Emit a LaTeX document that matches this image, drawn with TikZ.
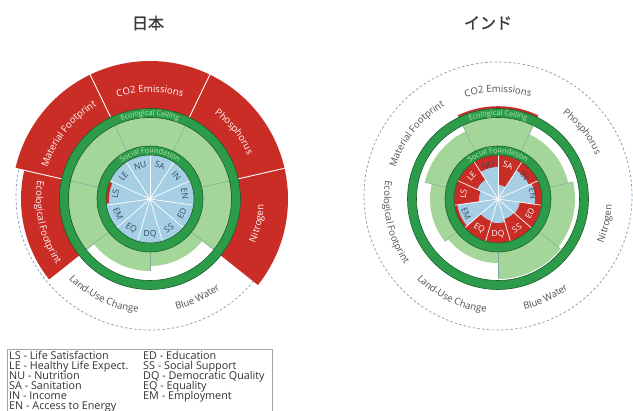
\documentclass[tikz,border=0pt]{standalone}
\usepackage{fontspec}
\usetikzlibrary{decorations.text}
\newfontfamily\osans{Open Sans}
\newfontfamily\cjkfont[FakeBold=1.2]{Noto Sans CJK JP}
\definecolor{dred}{RGB}{202,44,38}
\definecolor{lgreen}{RGB}{163,214,152}
\definecolor{dgreen}{RGB}{44,156,74}
\definecolor{dgline}{RGB}{25,95,45}
\definecolor{lblue}{RGB}{166,206,228}
\definecolor{ringtxt}{RGB}{185,228,175}
\definecolor{dashc}{RGB}{125,155,175}
\definecolor{sepc}{RGB}{130,170,160}
\definecolor{labgray}{RGB}{80,80,80}
\definecolor{soclab}{RGB}{50,75,100}
\definecolor{legc}{RGB}{50,50,50}
\definecolor{titc}{RGB}{60,60,60}
\newcommand{\labfont}{\osans\fontsize{9.6}{11}\selectfont}
\newcommand{\ringfont}{\osans\fontsize{7.3}{8}\selectfont}
\newcommand{\socfont}{\osans\fontsize{8.4}{9}\selectfont}
\newcommand{\legfont}{\osans\fontsize{10.8}{10}\selectfont}
\newcommand{\annsec}[5]{\fill[#5] ({#1}:#3pt) arc[start angle={#1}, end angle={#2}, radius=#3pt] -- ({#2}:#4pt) arc[start angle={#2}, end angle={#1}, radius=#4pt] -- cycle;}
\newcommand{\piesec}[4]{\fill[#4] (0,0) -- ({#1}:#3pt) arc[start angle={#1}, end angle={#2}, radius=#3pt] -- cycle;}
\newcommand{\cwlab}[4]{\path[decorate,decoration={text along path,text align=center,text color=#4,text={|\labfont|#3}}] ({#1+50}:#2pt) arc[start angle={#1+50}, end angle={#1-50}, radius=#2pt];}
\newcommand{\ccwlab}[4]{\path[decorate,decoration={text along path,text align=center,text color=#4,text={|\labfont|#3}}] ({#1-50}:#2pt) arc[start angle={#1-50}, end angle={#1+50}, radius=#2pt];}
\newcommand{\ringlab}[3]{\path[decorate,decoration={text along path,text align=center,text color=ringtxt,text={|\ringfont|#3}}] ({#1+50}:#2pt) arc[start angle={#1+50}, end angle={#1-50}, radius=#2pt];}
\newcommand{\rings}{%
  \fill[dgreen, even odd rule] (0,0) circle[radius=90.5pt] (0,0) circle[radius=81.5pt];
  \draw[ringedge] (0,0) circle[radius=90.5pt];
  \draw[ringedge] (0,0) circle[radius=81.5pt];
}
\newcommand{\socring}{%
  \fill[dgreen, even odd rule] (0,0) circle[radius=53pt] (0,0) circle[radius=44pt];
  \draw[ringedge] (0,0) circle[radius=53pt];
  \draw[ringedge] (0,0) circle[radius=44pt];
  \ringlab{90}{83.5}{Ecological Ceiling}
  \ringlab{90}{46}{Social Foundation}
}
\begin{document}
\begin{tikzpicture}[x=1pt,y=1pt,
  soclabel/.style={font=\socfont, inner sep=0pt},
  leg/.style={font=\legfont, anchor=base west, inner sep=0pt, text=legc},
  sep/.style={sepc, line width=0.5pt},
  ringedge/.style={dgline, line width=0.6pt},
  dashcirc/.style={dashc, line width=0.7pt, dash pattern=on 2.5pt off 2.2pt},
  title/.style={font=\cjkfont\fontsize{16}{18}\selectfont, text=titc},
]
\useasboundingbox (0,0) rectangle (633,411);
\clip (0,0) rectangle (633,411);
\fill[white] (0,0) rectangle (633,411);

% titles
\node[title] (tjp) at (148,388) {日本};
\node[title] (tin) at (488,388) {インド};

% ================= JAPAN =================
\draw[dashcirc] (150,215) circle[radius=134pt];
\begin{scope}[shift={(150,212)}]
  \annsec{64.29}{115.71}{53}{138}{dred}
  \annsec{12.86}{64.29}{53}{138}{dred}
  \annsec{-38.57}{12.86}{53}{138}{dred}
  \annsec{115.71}{167.14}{53}{138}{dred}
  \annsec{167.14}{218.57}{53}{129}{dred}
  \foreach \a in {115.71,64.29,12.86,167.14}
    \draw[white, line width=0.9pt] (\a:88pt) -- (\a:140pt);
  \annsec{-38.57}{218.57}{53}{81.5}{lgreen}
  \annsec{-141.43}{-90}{53}{72}{lgreen}
  \annsec{-90}{-38.57}{53}{67}{lgreen}
  \foreach \a in {115.71,64.29,12.86,167.14,218.57,-38.57}
    \draw[sep] (\a:53pt) -- (\a:81.5pt);
  \draw[sep] (-90:53pt) -- (-90:72pt);
  \rings
  \fill[lblue] (0,0) circle[radius=44pt];
  \annsec{157}{186}{41}{44}{dred}
  \foreach \k in {0,...,10}
    \draw[white, line width=0.7pt] (0,0) -- ({90-\k*360/11}:44pt);
  \fill[white] (0,0) circle[radius=1.6pt];
  \socring
  \foreach \lab/\k in {SA/0,IN/1,EN/2,ED/3,SS/4,DQ/5,EQ/6,EM/7,LS/8,LE/9,NU/10}{
    \pgfmathsetmacro\th{90-(\k+0.5)*360/11}
    \pgfmathsetmacro\rot{sin(\th)>0 ? \th-90 : \th+90}
    \node[soclabel, text=soclab, rotate=\rot] (j\lab) at (\th:35pt) {\lab};
  }
  \cwlab{90}{107}{CO2 Emissions}{white}
  \cwlab{38.57}{107}{Phosphorus}{white}
  \cwlab{141.43}{107}{Material Footprint}{white}
  \ccwlab{-12.86}{114}{Nitrogen}{white}
  \ccwlab{192.86}{114}{Ecological Footprint}{white}
  \ccwlab{-115.71}{114}{Land-Use Change}{labgray}
  \ccwlab{-64.29}{114}{Blue Water}{labgray}
\end{scope}

% ================= INDIA =================
\draw[dashcirc] (498,215) circle[radius=134pt];
\begin{scope}[shift={(498,212)}]
  \annsec{64.29}{115.71}{88}{92.8}{dred}
  \annsec{64.29}{115.71}{53}{82}{lgreen}
  \annsec{12.86}{64.29}{53}{72}{lgreen}
  \annsec{-38.57}{12.86}{53}{77}{lgreen}
  \annsec{-90}{-38.57}{53}{80}{lgreen}
  \annsec{-141.43}{-90}{53}{64}{lgreen}
  \annsec{167.14}{218.57}{53}{68}{lgreen}
  \annsec{115.71}{167.14}{53}{75}{lgreen}
  \draw[sep] (64.29:53pt) -- (64.29:81.5pt);
  \draw[sep] (12.86:53pt) -- (12.86:77pt);
  \draw[sep] (-38.57:53pt) -- (-38.57:80pt);
  \draw[sep] (-90:53pt) -- (-90:80pt);
  \draw[sep] (-141.43:53pt) -- (-141.43:68pt);
  \draw[sep] (167.14:53pt) -- (167.14:75pt);
  \draw[sep] (115.71:53pt) -- (115.71:81.5pt);
  \rings
  \fill[dred] (0,0) circle[radius=44pt];
  \foreach \k/\rr in {0/14,1/34,2/37,3/22,4/21,5/24,6/23,7/41,8/19,9/23,10/32}{
    \pgfmathsetmacro\aa{90-\k*360/11}
    \pgfmathsetmacro\ab{90-(\k+1)*360/11}
    \piesec{\aa}{\ab}{\rr}{lblue}
  }
  \foreach \k in {0,...,10}
    \draw[white, line width=0.7pt] (0,0) -- ({90-\k*360/11}:44pt);
  \fill[white] (0,0) circle[radius=1.6pt];
  \socring
  \foreach \lab/\k/\col in {SA/0/white,IN/1/soclab,EN/2/soclab,ED/3/white,SS/4/white,DQ/5/white,EQ/6/white,EM/7/soclab,LS/8/white,LE/9/white,NU/10/soclab}{
    \pgfmathsetmacro\th{90-(\k+0.5)*360/11}
    \pgfmathsetmacro\rot{sin(\th)>0 ? \th-90 : \th+90}
    \node[soclabel, text=\col, rotate=\rot] (i\lab) at (\th:35pt) {\lab};
  }
  \cwlab{90}{107}{CO2 Emissions}{labgray}
  \cwlab{38.57}{107}{Phosphorus}{labgray}
  \cwlab{141.43}{107}{Material Footprint}{labgray}
  \ccwlab{-12.86}{114}{Nitrogen}{labgray}
  \ccwlab{192.86}{114}{Ecological Footprint}{labgray}
  \ccwlab{-115.71}{114}{Land-Use Change}{labgray}
  \ccwlab{-64.29}{114}{Blue Water}{labgray}
\end{scope}

% ================= LEGEND =================
\draw[gray!70, line width=0.6pt] (7,-3) rectangle (272,62);
\node[leg] (l1) at (9,51.5) {LS - Life Satisfaction};
\node[leg] (l2) at (9,41.5) {LE - Healthy Life Expect.};
\node[leg] (l3) at (9,31.5) {NU - Nutrition};
\node[leg] (l4) at (9,21.5) {SA - Sanitation};
\node[leg] (l5) at (9,11.5) {IN - Income};
\node[leg] (l6) at (9,1.8) {EN - Access to Energy};
\node[leg] (r1) at (143,51.5) {ED - Education};
\node[leg] (r2) at (143,41.5) {SS - Social Support};
\node[leg] (r3) at (143,31.5) {DQ - Democratic Quality};
\node[leg] (r4) at (143,21.5) {EQ - Equality};
\node[leg] (r5) at (143,11.5) {EM - Employment};
\end{tikzpicture}
\end{document}
